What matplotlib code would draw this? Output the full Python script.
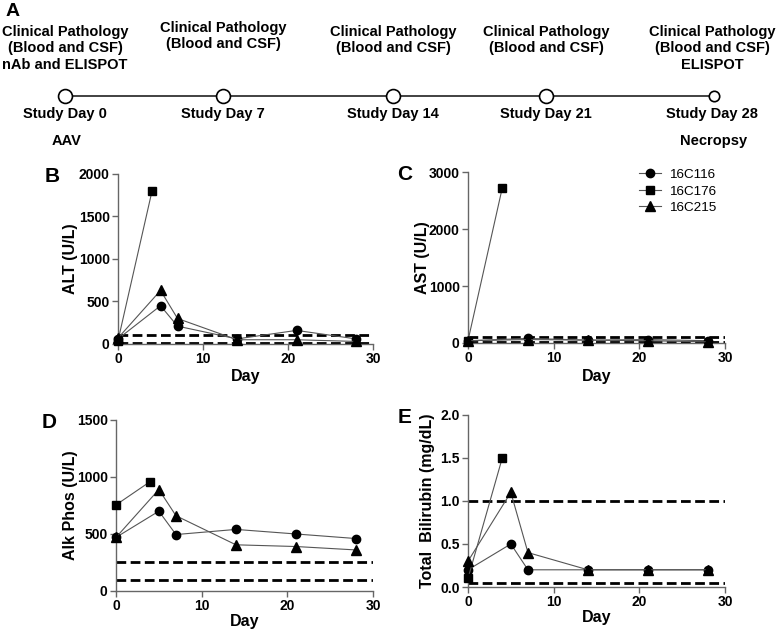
"""Timeline and liver panel figure (ALT, AST, Alk Phos, Bilirubin)."""

import matplotlib
matplotlib.use("Agg")
import matplotlib.pyplot as plt

plt.rcParams["font.family"] = ["Liberation Sans", "DejaVu Sans"]

# ---- data ----
animals = ["16C116", "16C176", "16C215"]
markers = {"16C116": "o", "16C176": "s", "16C215": "^"}

alt_days = {"16C116": [0, 5, 7, 14, 21, 28], "16C176": [0, 4], "16C215": [0, 5, 7, 14, 21, 28]}
alt_vals = {"16C116": [60, 450, 210, 60, 160, 60], "16C176": [40, 1800],
            "16C215": [70, 630, 300, 50, 50, 30]}
alt_ref = [100, 10]

ast_days = {"16C116": [0, 7, 14, 21, 28], "16C176": [0, 4], "16C215": [0, 7, 14, 21, 28]}
ast_vals = {"16C116": [40, 80, 50, 60, 40], "16C176": [40, 2720],
            "16C215": [40, 60, 50, 40, 20]}
ast_ref = [100, 20]

alp_days = {"16C116": [0, 5, 7, 14, 21, 28], "16C176": [0, 4], "16C215": [0, 5, 7, 14, 21, 28]}
alp_vals = {"16C116": [470, 700, 495, 540, 500, 460], "16C176": [755, 960],
            "16C215": [470, 890, 660, 405, 390, 360]}
alp_ref = [250, 100]

bil_days = {"16C116": [0, 5, 7, 14, 21, 28], "16C176": [0, 4], "16C215": [0, 5, 7, 14, 21, 28]}
bil_vals = {"16C116": [0.2, 0.5, 0.2, 0.2, 0.2, 0.2], "16C176": [0.1, 1.5],
            "16C215": [0.3, 1.1, 0.4, 0.2, 0.2, 0.2]}
bil_ref = [1.0, 0.05]

timeline_labels = ["Study Day 0", "Study Day 7", "Study Day 14", "Study Day 21", "Study Day 28"]
timeline_top = ["Clinical Pathology\n(Blood and CSF)\nnAb and ELISPOT",
                "Clinical Pathology\n(Blood and CSF)",
                "Clinical Pathology\n(Blood and CSF)",
                "Clinical Pathology\n(Blood and CSF)",
                "Clinical Pathology\n(Blood and CSF)\nELISPOT"]
timeline_bottom = ["AAV", "", "", "", "Necropsy"]

# layout (pixels) for the timeline
tl_x = [65, 223, 393, 546, 712]
tl_top_y = [32, 28, 32, 32, 32]

W, H = 777, 632
fig = plt.figure(figsize=(W / 100, H / 100), dpi=100)

# ---- panel A: timeline ----
axt = fig.add_axes([0, 0, 1, 1])
axt.set_xlim(0, W)
axt.set_ylim(H, 0)
axt.axis("off")
axt.plot([65, 714], [96, 96], color="#333333", lw=1.3, zorder=1)
for i, x in enumerate(tl_x):
    ms = 10 if i < 4 else 7.5
    axt.plot(65 if i == 0 else (714 if i == 4 else x), 96, "o", ms=ms,
             mfc="white", mec="black", mew=1.2, zorder=2)
    axt.text(x, tl_top_y[i] - 7, timeline_top[i], ha="center", va="top",
             fontsize=10.5, fontweight="bold", linespacing=1.22)
    axt.text(x, 114, timeline_labels[i], ha="center", va="center",
             fontsize=10.5, fontweight="bold")
    if timeline_bottom[i]:
        axt.text(x + 2, 141, timeline_bottom[i], ha="center", va="center",
                 fontsize=10.5, fontweight="bold")
axt.text(6, 12, "A", ha="left", va="center", fontsize=14, fontweight="bold")


def panel(rect, days, vals, ref, ymax, yticks, ylabel, letter, ylab_x, xlab_y, fmt=None):
    ax = fig.add_axes(rect)
    for a in animals:
        ax.plot(days[a], vals[a], color="#555555", lw=0.8, marker=markers[a],
                ms=6 if a != "16C215" else 6.5, mfc="black", mec="black",
                clip_on=False, zorder=3, label=a)
    for r in ref:
        ax.axhline(r, color="black", lw=2, dashes=(3.5, 1.6), zorder=2)
    ax.set_xlim(0, 30)
    ax.set_ylim(0, ymax)
    ax.set_xticks([0, 10, 20, 30])
    ax.set_yticks(yticks)
    if fmt:
        ax.set_yticklabels([fmt.format(t) for t in yticks])
    for s in ["top", "right"]:
        ax.spines[s].set_visible(False)
    for s in ["left", "bottom"]:
        ax.spines[s].set_color("#666666")
        ax.spines[s].set_linewidth(1.0)
    ax.tick_params(direction="out", length=4, width=1, color="#666666",
                   labelsize=10, pad=2)
    for lab in ax.get_xticklabels() + ax.get_yticklabels():
        lab.set_fontweight("bold")
    ax.set_xlabel("Day", fontsize=11.5, fontweight="bold")
    ax.xaxis.set_label_coords(0.5, xlab_y)
    ax.set_ylabel(ylabel, fontsize=11.5, fontweight="bold")
    ax.yaxis.set_label_coords(ylab_x, 0.5)
    ax.text(-0.26 if letter in "BD" else -0.245, 0.985, letter, transform=ax.transAxes,
            ha="center", va="center", fontsize=15, fontweight="bold")
    return ax


panel([0.1519, 0.4557, 0.3282, 0.269], alt_days, alt_vals, alt_ref, 2000,
      [0, 500, 1000, 1500, 2000], "ALT (U/L)", "B", -0.157, -0.15)
axc = panel([0.6023, 0.4573, 0.3308, 0.2705], ast_days, ast_vals, ast_ref, 3000,
            [0, 1000, 2000, 3000], "AST (U/L)", "C", -0.148, -0.15)
panel([0.1493, 0.0649, 0.3308, 0.2706], alp_days, alp_vals, alp_ref, 1500,
      [0, 500, 1000, 1500], "Alk Phos (U/L)", "D", -0.148, -0.135)
panel([0.6023, 0.0712, 0.3308, 0.2722], bil_days, bil_vals, bil_ref, 2.0,
      [0, 0.5, 1.0, 1.5, 2.0], "Total  Bilirubin (mg/dL)", "E", -0.128, -0.135,
      fmt="{:.1f}")

leg = axc.legend(loc="upper left", bbox_to_anchor=(0.62, 1.09), frameon=False,
                 fontsize=9.7, handlelength=1.6, handletextpad=0.6, labelspacing=0.3)
for h in leg.legend_handles:
    h.set_color("#555555")
    h.set_markerfacecolor("black")
    h.set_markeredgecolor("black")

fig.savefig("out.png", dpi=100)
